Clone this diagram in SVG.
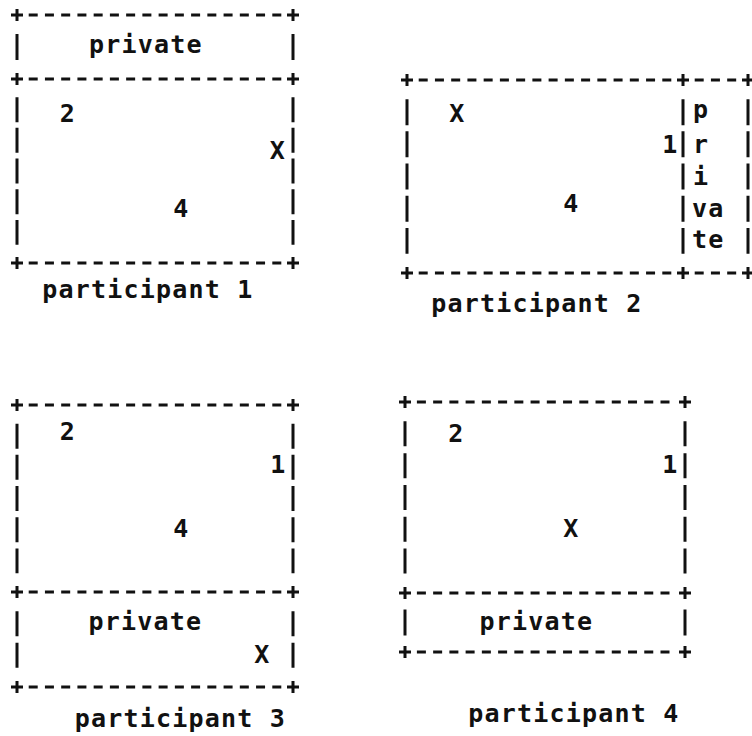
<svg xmlns="http://www.w3.org/2000/svg" width="752" height="736" viewBox="0 0 752 736">
<style>
  .t { font-family: "DejaVu Sans Mono", "Liberation Mono", monospace; font-size: 25px; font-weight: bold; letter-spacing: 1.2px; fill: #111; text-anchor: middle; }
  .ts { text-anchor: start; }
  .h { stroke: #111; stroke-width: 3; fill: none; stroke-dasharray: 9 7.24; }
  .v { stroke: #111; stroke-width: 3; fill: none; }
  .p { stroke: #111; stroke-width: 3; fill: none; }
</style>
<defs>
  <path id="plus" class="p" d="M-6 0H6M0 -6V6"/>
</defs>
<rect width="752" height="736" fill="#fff"/>

<g id="participant1">
  <line class="h" x1="28.7" y1="15" x2="281.3" y2="15"/>
  <line class="h" x1="28.7" y1="79" x2="281.3" y2="79"/>
  <line class="h" x1="28.7" y1="263" x2="281.3" y2="263"/>
  <use href="#plus" x="17" y="15"/><use href="#plus" x="293" y="15"/>
  <use href="#plus" x="17" y="79"/><use href="#plus" x="293" y="79"/>
  <use href="#plus" x="17" y="263"/><use href="#plus" x="293" y="263"/>
  <line class="v" x1="17" y1="34" x2="17" y2="60"/>
  <line class="v" x1="293" y1="34" x2="293" y2="60"/>
  <line class="v" x1="17" y1="97.2" x2="17" y2="244.8" stroke-dasharray="25 5.67"/>
  <line class="v" x1="293" y1="97.2" x2="293" y2="244.8" stroke-dasharray="25 5.67"/>
  <text class="t" x="146" y="53">private</text>
  <text class="t" x="68" y="122">2</text>
  <text class="t" x="278" y="159">X</text>
  <text class="t" x="181.5" y="217">4</text>
  <text class="t" x="148" y="298">participant 1</text>
</g>

<g id="participant2">
  <line class="h" x1="418.7" y1="80" x2="671.3" y2="80"/>
  <line class="h" x1="418.7" y1="273" x2="671.3" y2="273"/>
  <line class="h" x1="694.7" y1="80" x2="736.3" y2="80"/>
  <line class="h" x1="694.7" y1="273" x2="736.3" y2="273"/>
  <use href="#plus" x="407" y="80"/><use href="#plus" x="683" y="80"/><use href="#plus" x="748" y="80"/>
  <use href="#plus" x="407" y="273"/><use href="#plus" x="683" y="273"/><use href="#plus" x="748" y="273"/>
  <line class="v" x1="407" y1="99.2" x2="407" y2="253.8" stroke-dasharray="26 6.17"/>
  <line class="v" x1="683" y1="99.2" x2="683" y2="253.8" stroke-dasharray="26 6.17"/>
  <line class="v" x1="748" y1="99.2" x2="748" y2="253.8" stroke-dasharray="26 6.17"/>
  <text class="t" x="457.5" y="122">X</text>
  <text class="t" x="670.5" y="153">1</text>
  <text class="t" x="571.5" y="212">4</text>
  <text class="t ts" x="693" y="118">p</text>
  <text class="t ts" x="693" y="153">r</text>
  <text class="t ts" x="693" y="185">i</text>
  <text class="t ts" x="692" y="217">va</text>
  <text class="t ts" x="692" y="248">te</text>
  <text class="t" x="537" y="312">participant 2</text>
</g>

<g id="participant3">
  <line class="h" x1="28.7" y1="405" x2="281.3" y2="405"/>
  <line class="h" x1="28.7" y1="592" x2="281.3" y2="592"/>
  <line class="h" x1="28.7" y1="687" x2="281.3" y2="687"/>
  <use href="#plus" x="17" y="405"/><use href="#plus" x="293" y="405"/>
  <use href="#plus" x="17" y="592"/><use href="#plus" x="293" y="592"/>
  <use href="#plus" x="17" y="687"/><use href="#plus" x="293" y="687"/>
  <line class="v" x1="17" y1="423.7" x2="17" y2="573.3" stroke-dasharray="25 6.17"/>
  <line class="v" x1="293" y1="423.7" x2="293" y2="573.3" stroke-dasharray="25 6.17"/>
  <line class="v" x1="17" y1="611.2" x2="17" y2="667.8" stroke-dasharray="25 6.67"/>
  <line class="v" x1="293" y1="611.2" x2="293" y2="667.8" stroke-dasharray="25 6.67"/>
  <text class="t" x="68" y="440">2</text>
  <text class="t" x="278.5" y="473">1</text>
  <text class="t" x="181.5" y="537">4</text>
  <text class="t" x="145.5" y="630">private</text>
  <text class="t" x="262.5" y="663">X</text>
  <text class="t" x="180.5" y="727">participant 3</text>
</g>

<g id="participant4">
  <line class="h" x1="416.9" y1="402" x2="673.1" y2="402" stroke-dasharray="9 7.47"/>
  <line class="h" x1="416.9" y1="593" x2="673.1" y2="593" stroke-dasharray="9 7.47"/>
  <line class="h" x1="416.9" y1="652" x2="673.1" y2="652" stroke-dasharray="9 7.47"/>
  <use href="#plus" x="405" y="402"/><use href="#plus" x="685" y="402"/>
  <use href="#plus" x="405" y="593"/><use href="#plus" x="685" y="593"/>
  <use href="#plus" x="405" y="652"/><use href="#plus" x="685" y="652"/>
  <line class="v" x1="405" y1="421.3" x2="405" y2="573.7" stroke-dasharray="25 6.83"/>
  <line class="v" x1="685" y1="421.3" x2="685" y2="573.7" stroke-dasharray="25 6.83"/>
  <line class="v" x1="405" y1="609.5" x2="405" y2="635.5"/>
  <line class="v" x1="685" y1="609.5" x2="685" y2="635.5"/>
  <text class="t" x="456.5" y="442">2</text>
  <text class="t" x="670.5" y="473">1</text>
  <text class="t" x="571.5" y="537">X</text>
  <text class="t" x="536.5" y="630">private</text>
  <text class="t" x="574" y="722">participant 4</text>
</g>
</svg>
